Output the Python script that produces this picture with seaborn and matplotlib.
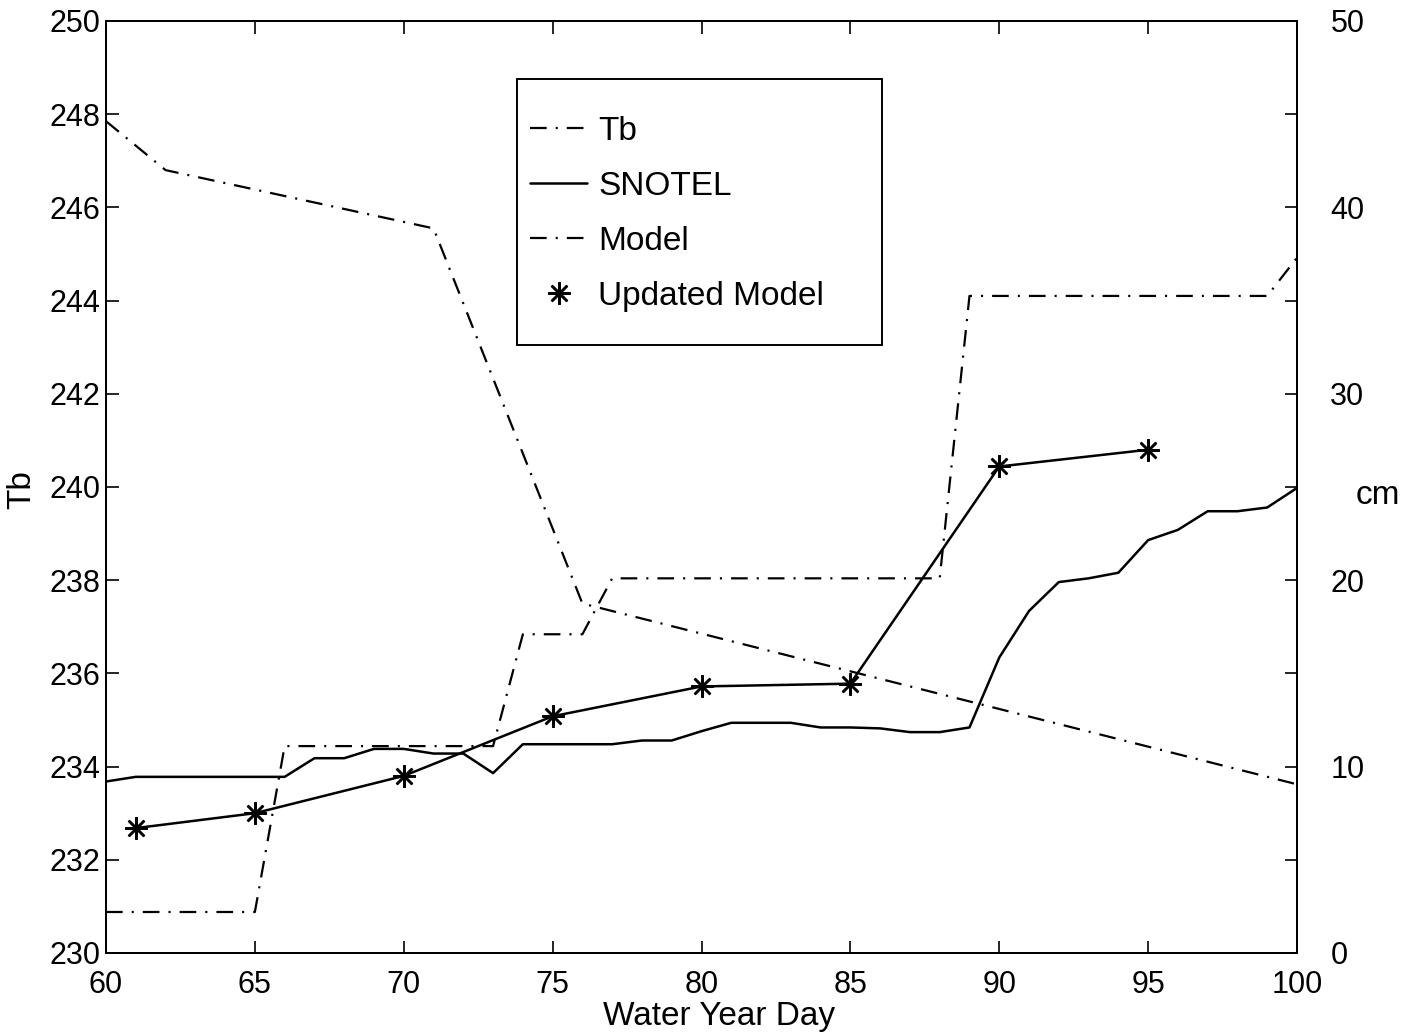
import numpy as np
import matplotlib
matplotlib.use("Agg")
import matplotlib.pyplot as plt
from matplotlib.lines import Line2D
from matplotlib.patches import Rectangle
import seaborn as sns

# Brightness temperature (K), left axis
tb_day = [60, 62, 71, 76, 100]
tb_val = [247.85, 246.8, 245.55, 237.5, 233.62]

# SNOTEL snow depth (cm), right axis
snotel_day = list(range(60, 101))
snotel_cm = [9.2, 9.45, 9.45, 9.45, 9.45, 9.45, 9.45, 10.45, 10.45, 10.95,
             10.95, 10.7, 10.7, 9.65, 11.2, 11.2, 11.2, 11.2, 11.4, 11.4,
             11.9, 12.35, 12.35, 12.35, 12.1, 12.1, 12.05, 11.85, 11.85, 12.1,
             15.85, 18.35, 19.9, 20.1, 20.4, 22.15, 22.7, 23.7, 23.7, 23.9,
             24.95]

# Open-loop model (cm), right axis
model_day = [60, 65, 66, 73, 74, 76, 77, 88, 89, 99, 100]
model_cm = [2.2, 2.2, 11.1, 11.1, 17.1, 17.1, 20.1, 20.1, 35.25, 35.25, 37.3]

# Updated model (cm), right axis
upd_day = [61, 65, 70, 75, 80, 85, 90, 95]
upd_cm = [6.7, 7.5, 9.5, 12.7, 14.3, 14.45, 26.1, 27.0]

x_ticks = list(range(60, 101, 5))
tb_ticks = list(range(230, 251, 2))
cm_ticks = list(range(0, 51, 5))
cm_ticklabels = [str(v) if v % 10 == 0 else "" for v in cm_ticks]

sns.set_style("white")
plt.rcParams["font.family"] = ["Liberation Sans", "DejaVu Sans"]
plt.rcParams["lines.scale_dashes"] = False
for key in ("text.color", "axes.labelcolor", "xtick.color", "ytick.color"):
    plt.rcParams[key] = "black"

W, H = 1418, 1036
fig = plt.figure(figsize=(W / 100, H / 100), dpi=100)
ax = fig.add_axes([106 / W, 1 - 953 / H, (1297 - 106) / W, (953 - 21) / H])
ax2 = ax.twinx()

dashdot = (0, (12, 6.5, 1.5, 6.5))
lw = 1.6
star = (8, 2, 0)

sns.lineplot(x=tb_day, y=tb_val, ax=ax, color="black", linewidth=lw,
             linestyle=dashdot, sort=False)
sns.lineplot(x=snotel_day, y=snotel_cm, ax=ax2, color="black", linewidth=lw + 0.2,
             sort=False)
sns.lineplot(x=model_day, y=model_cm, ax=ax2, color="black", linewidth=lw,
             linestyle=dashdot, sort=False)
sns.lineplot(x=upd_day, y=upd_cm, ax=ax2, color="black", linewidth=lw + 0.2,
             marker=star, markersize=16, markeredgewidth=1.8,
             markeredgecolor="black", sort=False)

ax.set_xlim(60, 100)
ax.set_ylim(230, 250)
ax2.set_ylim(0, 50)

ax.set_xticks(x_ticks)
ax.set_xticklabels([str(v) for v in x_ticks])
ax.set_yticks(tb_ticks)
ax.set_yticklabels([str(v) for v in tb_ticks])
ax2.set_yticks(cm_ticks)
ax2.set_yticklabels(cm_ticklabels)

fs_tick = 22
fs = 24
ax.tick_params(axis="x", direction="in", length=9, width=1.2, top=True,
               bottom=True, labelsize=fs_tick, pad=12)
ax.tick_params(axis="y", direction="in", length=9, width=1.2, left=True,
               right=False, labelsize=fs_tick, pad=4)
ax2.tick_params(axis="y", direction="in", length=9, width=1.2, right=True,
                labelsize=fs_tick, pad=24)

for a in (ax, ax2):
    for s in a.spines.values():
        s.set_visible(True)
        s.set_linewidth(1.4)
        s.set_color("black")

ax.set_xlabel("Water Year Day", fontsize=fs, va="center")
ax.xaxis.set_label_coords((719 - 106) / 1191, (953 - 1017) / 932)
ax.set_ylabel("Tb", fontsize=fs, va="center", ha="center")
ax.yaxis.set_label_coords((22 - 106) / 1191, (953 - 490) / 932)
ax2.set_ylabel("cm", fontsize=fs, rotation=0, va="center", ha="center")
ax2.yaxis.set_label_coords((1378 - 106) / 1191, (953 - 495) / 932)

# Legend box and entries
ax2.add_patch(Rectangle(((517 - 106) / 1191, (953 - 345) / 932),
                        (882 - 517) / 1191, (345 - 79) / 932,
                        transform=ax2.transAxes, facecolor="white",
                        edgecolor="black", linewidth=1.4, zorder=4))
handles = [
    Line2D([], [], color="black", linewidth=lw, linestyle=dashdot),
    Line2D([], [], color="black", linewidth=lw + 0.2),
    Line2D([], [], color="black", linewidth=lw, linestyle=dashdot),
    Line2D([], [], color="black", linestyle="none", marker=star,
           markersize=16, markeredgewidth=1.8),
]
labels = ["Tb", "SNOTEL", "Model", "Updated Model"]
leg = ax2.legend(handles, labels, loc="upper left",
                 bbox_to_anchor=((530 - 106) / 1191, (953 - 116) / 932),
                 frameon=False, fontsize=fs, borderpad=0, borderaxespad=0,
                 handlelength=1.71, handletextpad=0.33, labelspacing=0.72)
leg.set_zorder(5)

fig.savefig("out.png", dpi=100)
